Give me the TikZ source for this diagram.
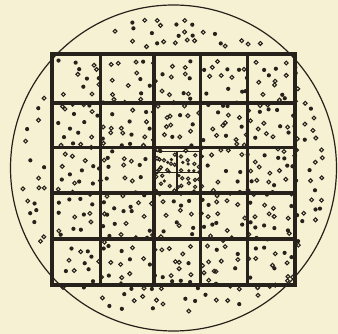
\documentclass[tikz,border=0pt]{standalone}
\usetikzlibrary{calc}
\definecolor{paper}{RGB}{247,241,211}
\definecolor{ink}{RGB}{38,33,27}
\tikzset{
  rimline/.style={ink, line width=1.2pt},
  gridline/.style={ink, line width=3.4pt},
  frameline/.style={ink, line width=3.8pt},
  subline/.style={ink, line width=1.5pt},
  dotring/.style={ink, line width=1.1pt},
}
% one speck: solid or ring
\newcommand{\speck}[3]{%
  \pgfmathtruncatemacro\solid{rnd<0.4?1:0}%
  \ifnum\solid=1 \fill[ink] (#1,#2) circle[radius=#3*2.1pt];
  \else \draw[dotring] (#1,#2) circle[radius=#3*1.9pt];\fi}
% jittered specks in a box: x0 y0 x1 y1 nx ny size
\newcommand{\specklattice}[7]{%
  \foreach \i in {1,...,#5}{%
    \foreach \j in {1,...,#6}{%
      \pgfmathsetmacro\sx{#1+(\i-0.5)*(#3-#1)/#5+(rnd-0.5)*0.85*(#3-#1)/#5}%
      \pgfmathsetmacro\sy{#2+(\j-0.5)*(#4-#2)/#6+(rnd-0.5)*0.85*(#4-#2)/#6}%
      \pgfmathtruncatemacro\keep{rnd<0.86?1:0}%
      \ifnum\keep=1 \speck{\sx}{\sy}{#7}\fi}}}
\begin{document}
\begin{tikzpicture}[x=1pt, y=-1pt]
	\pgfmathsetseed{5}
	\useasboundingbox[fill=paper] (0,0) rectangle (338,334);
	\draw[rimline] (173.5,168) circle[radius=163pt];
	% specks round the grid, kept inside the rim
	\foreach \i in {0,...,29}{
		\foreach \j in {0,...,29}{
			\pgfmathsetmacro\sx{16+\i*10.6+(rnd-0.5)*8}
			\pgfmathsetmacro\sy{11+\j*10.6+(rnd-0.5)*8}
			\pgfmathsetmacro\dx{(\sx-173.5)/100}
			\pgfmathsetmacro\dy{(\sy-168)/100}
			\pgfmathtruncatemacro\keep{(\dx*\dx+\dy*\dy<2.34 && (\sx<46 || \sx>301 || \sy<48 || \sy>291) && rnd<0.62)?1:0}
			\ifnum\keep=1 \speck{\sx}{\sy}{1}\fi
		}
	}
	% specks in the cells
	\foreach \xa/\xb [count=\c] in {52/100.5, 100.5/154, 154/200.5, 200.5/247.5, 247.5/295}{
		\foreach \ya/\yb [count=\r] in {54/103, 103/147.5, 147.5/193, 193/239, 239/285}{
			\pgfmathtruncatemacro\mid{(\c==3 && \r==3)?1:0}
			\ifnum\mid=0
				\specklattice{\xa+5}{\ya+5}{\xb-5}{\yb-5}{5}{4}{1}
			\fi
		}
	}
	% the middle cell, split in four
	\foreach \xa/\xb in {155/177, 177/200.5}{
		\foreach \ya/\yb in {151.5/172.5, 172.5/193}{
			\specklattice{\xa+2.5}{\ya+2.5}{\xb-2.5}{\yb-2.5}{4}{3}{0.85}
		}
	}
	\draw[subline] (154,151.5) -- (200.5,151.5);
	\draw[subline] (154,172.5) -- (200.5,172.5);
	\draw[subline] (177,151.5) -- (177,193);
	% the grid
	\foreach \gx in {100.5,154,200.5,247.5}
		\draw[gridline] (\gx,54) -- (\gx,285);
	\foreach \gy in {103,147.5,193,239}
		\draw[gridline] (52,\gy) -- (295,\gy);
	\draw[frameline] (52,54) rectangle (295,285);
\end{tikzpicture}
\end{document}
